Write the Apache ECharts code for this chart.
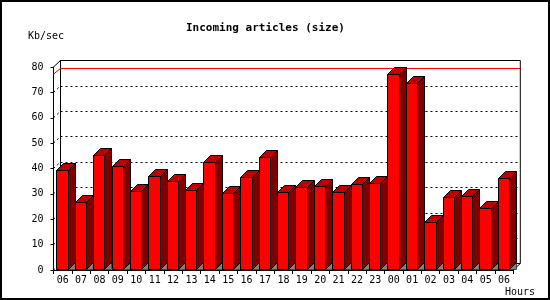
<!DOCTYPE html>
<html>
<head>
<meta charset="utf-8">
<script src="https://cdn.jsdelivr.net/npm/echarts@6/dist/echarts.min.js"></script>
<style>
html,body{margin:0;padding:0;background:#fff;}
#chart{width:550px;height:300px;}
</style>
</head>
<body>
<div id="chart"></div>
<script>
// ---- data ----
const categories = ['06','07','08','09','10','11','12','13','14','15','16','17','18','19','20','21','22','23','00','01','02','03','04','05','06'];
const sizeValues = [39.3, 26.7, 45.2, 40.9, 31.0, 36.9, 35.0, 31.4, 42.4, 30.2, 36.5, 44.4, 30.6, 32.6, 33.0, 30.6, 33.8, 34.2, 77.2, 73.6, 18.8, 28.6, 29.0, 24.3, 36.1];
const yTicks = [0, 10, 20, 30, 40, 50, 60, 70, 80];
const yMin = 0, yMax = 80, yStep = 10;
const titleText = 'Incoming articles (size)';
const yUnit = 'Kb/sec';
const xUnit = 'Hours';

// ---- style ----
const DX = 7, DY = 6.5;
const FONT = 'DejaVu Sans Mono';
const maxVal = Math.max.apply(null, sizeValues);

const chart = echarts.init(document.getElementById('chart'), null, {renderer: 'canvas'});

function px(v) { return Math.round(v) + 0.5; }

function barItem(params, api) {
  const idx = api.value(0), v = api.value(1);
  const top = api.coord([idx, v]);
  const base = api.coord([idx, 0]);
  const band = api.size([1, 0])[0];
  const x0 = px(top[0] - band * 0.345);
  const x1 = px(top[0] - band * 0.345 + band * 0.615);
  const ty = px(top[1]), by = px(base[1]) - 1;
  const dx = Math.round(DX), dy = Math.round(DY);
  const stroke = {stroke: '#000', lineWidth: 1};
  return {
    type: 'group',
    children: [
      {type: 'polygon', shape: {points: [[x1, by], [x1 + dx, by - dy], [x1 + dx, by]]},
       style: {fill: '#808080', stroke: '#000', lineWidth: 0.6}},
      {type: 'polygon', shape: {points: [[x1, ty], [x1 + dx, ty - dy], [x1 + dx, by - dy], [x1, by]]},
       style: Object.assign({fill: '#800000'}, stroke)},
      {type: 'polygon', shape: {points: [[x0, ty], [x0 + dx, ty - dy], [x1 + dx, ty - dy], [x1, ty]]},
       style: Object.assign({fill: '#c00000'}, stroke)},
      {type: 'rect', shape: {x: x0, y: ty, width: x1 - x0, height: by - ty},
       style: Object.assign({fill: '#ff0000'}, stroke)}
    ]
  };
}

function wallItem(params, api) {
  const v = api.value(1);
  const cs = params.coordSys;
  const y = api.coord([0, v])[1];
  const x0 = cs.x;
  const children = [];
  children.push({type: 'line', shape: {x1: x0, y1: y, x2: x0 + DX, y2: y - DY},
    style: v === yMax ? {stroke: '#000', lineWidth: 1} : {stroke: '#000', lineWidth: 1, lineDash: [2, 3]}});
  if (v === yMin) {
    const xr = cs.x + cs.width;
    children.push({type: 'line', shape: {x1: xr, y1: y, x2: xr + DX, y2: y - DY},
      style: {stroke: '#000', lineWidth: 1}});
  }
  return {type: 'group', children: children};
}

function maxItem(params, api) {
  const v = api.value(1);
  const cs = params.coordSys;
  const y = api.coord([0, v])[1];
  const x0 = cs.x;
  const yb = px(y - DY);
  return {
    type: 'group',
    children: [
      {type: 'line', shape: {x1: x0, y1: y, x2: x0 + DX, y2: yb}, style: {stroke: '#ff0000', lineWidth: 1}},
      {type: 'line', shape: {x1: x0 + DX, y1: yb, x2: x0 + DX + cs.width, y2: yb}, style: {stroke: '#ff0000', lineWidth: 1}}
    ]
  };
}

const option = {
  animation: false,
  backgroundColor: '#fff',
  title: {
    text: titleText,
    left: 181, top: 18,
    textStyle: {fontFamily: FONT, fontWeight: 'bold', fontSize: 11, color: '#000'}
  },
  graphic: [
    {type: 'rect', shape: {x: 1, y: 1, width: 548, height: 298}, style: {fill: null, stroke: '#000', lineWidth: 2}, z: 100},
    {type: 'text', left: 28, top: 31, style: {text: yUnit, font: '10px ' + FONT, fill: '#000'}},
    {type: 'text', left: 505, top: 287, style: {text: xUnit, font: '10px ' + FONT, fill: '#000'}}
  ],
  grid: [
    {left: 53.5, top: 67, width: 459.8, height: 203, show: false},
    {left: 60.5, top: 60.5, width: 459.8, height: 203, show: true, backgroundColor: '#fff', borderColor: '#000', borderWidth: 1}
  ],
  xAxis: [
    {gridIndex: 0, type: 'category', data: categories, boundaryGap: true,
     axisLine: {show: true, lineStyle: {color: '#000', width: 1}},
     axisTick: {show: true, length: 4, interval: 0, lineStyle: {color: '#000'}},
     axisLabel: {interval: 0, margin: 5, fontFamily: FONT, fontSize: 10, color: '#000'},
     splitLine: {show: false}},
    {gridIndex: 1, type: 'category', data: categories, boundaryGap: true, show: false}
  ],
  yAxis: [
    {gridIndex: 0, type: 'value', min: yMin, max: yMax, interval: yStep,
     axisLine: {show: true, lineStyle: {color: '#000', width: 1}},
     axisTick: {show: true, length: 3, lineStyle: {color: '#000'}},
     axisLabel: {margin: 10, fontFamily: FONT, fontSize: 10, color: '#000'},
     splitLine: {show: false}},
    {gridIndex: 1, type: 'value', min: yMin, max: yMax, interval: yStep,
     axisLine: {show: false}, axisTick: {show: false}, axisLabel: {show: false},
     splitLine: {show: true, lineStyle: {color: '#000', width: 1, type: [2, 3]}}}
  ],
  series: [
    {type: 'custom', name: 'wall', xAxisIndex: 0, yAxisIndex: 0, z: 1,
     data: yTicks.map(function (t) { return [0, t]; }), renderItem: wallItem, silent: true},
    {type: 'custom', name: 'max', xAxisIndex: 0, yAxisIndex: 0, z: 1, itemStyle: {color: '#ff0000'},
     data: [[0, maxVal]], renderItem: maxItem, silent: true},
    {type: 'custom', name: 'size', xAxisIndex: 0, yAxisIndex: 0, z: 3,
     data: sizeValues.map(function (v, i) { return [i, v]; }), renderItem: barItem,
     encode: {x: 0, y: 1}}
  ]
};
chart.setOption(option);
</script>
</body>
</html>
